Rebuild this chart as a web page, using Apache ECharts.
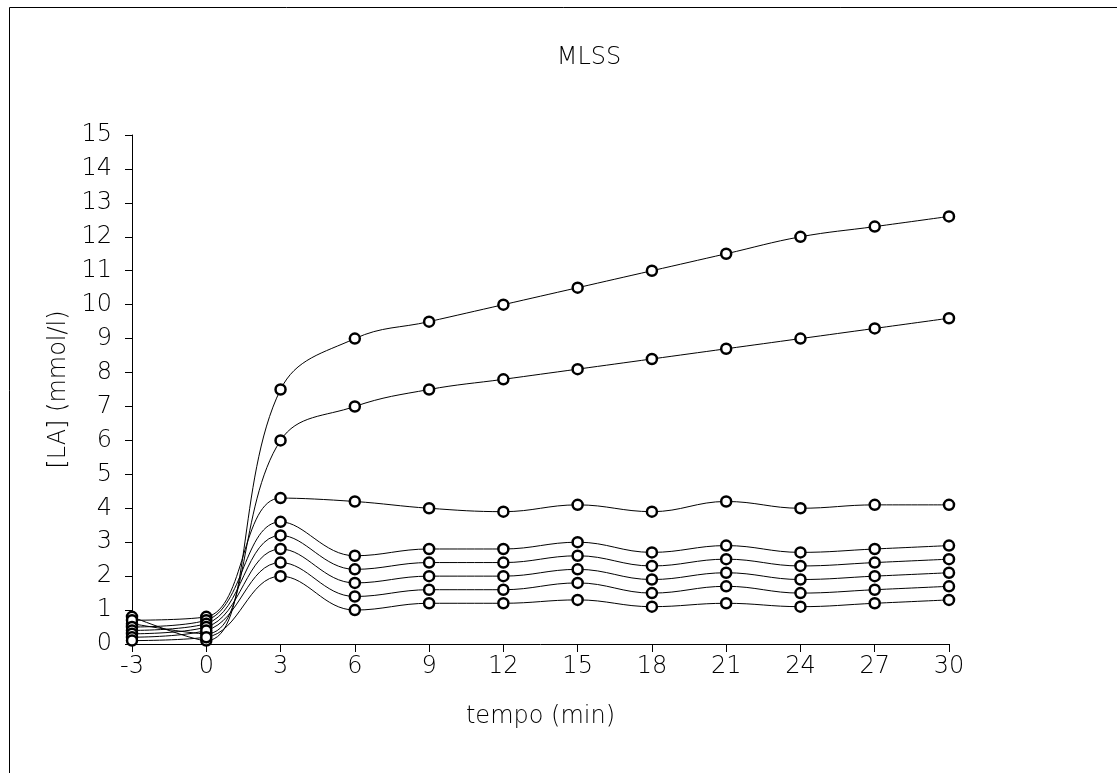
<!DOCTYPE html>
<html>
<head>
<meta charset="utf-8">
<script src="https://cdn.jsdelivr.net/npm/echarts@6/dist/echarts.min.js"></script>
<style>
  html, body { margin: 0; padding: 0; background: #fff; }
  #main { width: 1117px; height: 773px; }
</style>
</head>
<body>
<div id="main"></div>
<script>
// tempo (min)
var times = [-3, 0, 3, 6, 9, 12, 15, 18, 21, 24, 27, 30];

// [LA] (mmol/l), one array per curve, top to bottom
var s1 = [0.8, 0.1, 7.5, 9.0, 9.5, 10.0, 10.5, 11.0, 11.5, 12.0, 12.3, 12.6];
var s2 = [0.6, 0.3, 6.0, 7.0, 7.5, 7.8, 8.1, 8.4, 8.7, 9.0, 9.3, 9.6];
var s3 = [0.7, 0.8, 4.3, 4.2, 4.0, 3.9, 4.1, 3.9, 4.2, 4.0, 4.1, 4.1];
var s4 = [0.5, 0.7, 3.6, 2.6, 2.8, 2.8, 3.0, 2.7, 2.9, 2.7, 2.8, 2.9];
var s5 = [0.4, 0.6, 3.2, 2.2, 2.4, 2.4, 2.6, 2.3, 2.5, 2.3, 2.4, 2.5];
var s6 = [0.3, 0.5, 2.8, 1.8, 2.0, 2.0, 2.2, 1.9, 2.1, 1.9, 2.0, 2.1];
var s7 = [0.2, 0.4, 2.4, 1.4, 1.6, 1.6, 1.8, 1.5, 1.7, 1.5, 1.6, 1.7];
var s8 = [0.1, 0.2, 2.0, 1.0, 1.2, 1.2, 1.3, 1.1, 1.2, 1.1, 1.2, 1.3];

var allSeries = [s1, s2, s3, s4, s5, s6, s7, s8];

var font = '"DejaVu Sans", sans-serif';
var fsize = 24;

var myChart = echarts.init(document.getElementById('main'));

var series = allSeries.map(function (vals, i) {
  return {
    name: 'S' + (i + 1),
    type: 'line',
    smooth: 0.4,
    symbol: 'circle',
    symbolSize: 10,
    itemStyle: { color: '#fff', borderColor: '#000', borderWidth: 2.5 },
    lineStyle: { color: '#000', width: 1 },
    data: times.map(function (t, j) { return [t, vals[j]]; })
  };
});

var option = {
  animation: false,
  backgroundColor: '#fff',
  title: {
    text: 'MLSS',
    left: 584,
    top: 41,
    textAlign: 'center',
    textStyle: { fontFamily: font, fontSize: fsize, fontWeight: 200, color: '#000' }
  },
  graphic: [{
    type: 'rect',
    shape: { x: 9.5, y: 7.5, width: 1200, height: 900 },
    style: { fill: 'none', stroke: '#000', lineWidth: 1 },
    silent: true
  }],
  grid: { left: 132, right: 168, top: 135, bottom: 129 },
  xAxis: {
    type: 'value',
    min: -3,
    max: 30,
    interval: 3,
    name: 'tempo (min)',
    nameLocation: 'middle',
    nameGap: 61,
    nameTextStyle: { fontFamily: font, fontSize: fsize, fontWeight: 200, color: '#000' },
    axisLine: { onZero: false, lineStyle: { color: '#000', width: 1 } },
    axisTick: { show: true, inside: false, length: 8, lineStyle: { color: '#000' } },
    axisLabel: { fontFamily: font, fontSize: fsize, fontWeight: 200, color: '#000', margin: 11 },
    splitLine: { show: false }
  },
  yAxis: {
    type: 'value',
    min: 0,
    max: 15,
    interval: 1,
    name: '[LA] (mmol/l)',
    nameLocation: 'middle',
    nameGap: 57,
    nameTextStyle: { fontFamily: font, fontSize: fsize, fontWeight: 200, color: '#000' },
    axisLine: { show: true, onZero: false, lineStyle: { color: '#000', width: 1 } },
    axisTick: { show: true, inside: false, length: 7, lineStyle: { color: '#000' } },
    axisLabel: { fontFamily: font, fontSize: fsize, fontWeight: 200, color: '#000', margin: 20 },
    splitLine: { show: false }
  },
  series: series
};

myChart.setOption(option);
</script>
</body>
</html>
